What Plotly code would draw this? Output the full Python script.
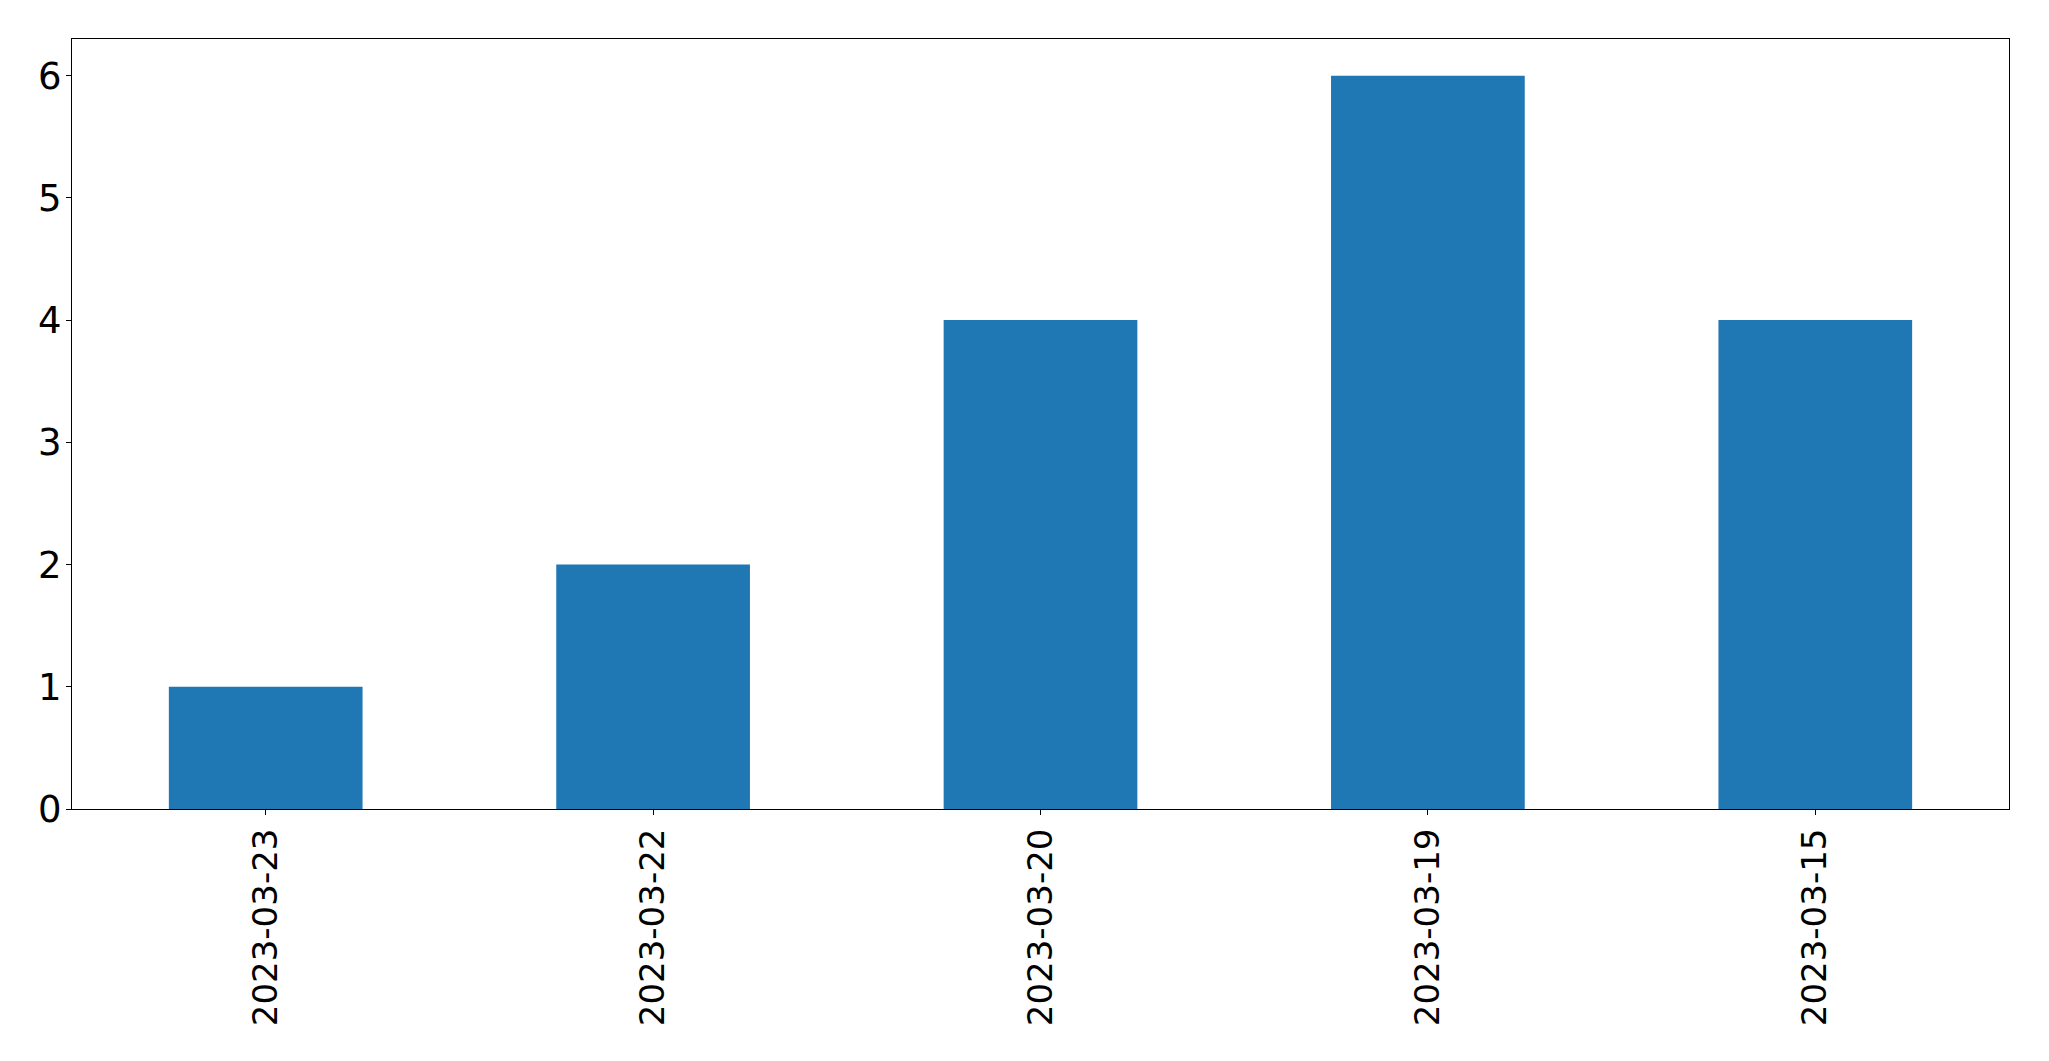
import plotly.graph_objects as go

categories = ["2023-03-23", "2023-03-22", "2023-03-20", "2023-03-19", "2023-03-15"]
values = [1, 2, 4, 6, 4]
y_ticks = [0, 1, 2, 3, 4, 5, 6]

fig = go.Figure(
    go.Bar(x=categories, y=values, width=0.5, marker=dict(color="#1f77b4", line=dict(width=0)))
)

axis_common = dict(
    showline=True, linecolor="black", linewidth=1, mirror=True,
    ticks="outside", ticklen=5, tickwidth=1, tickcolor="black",
    showgrid=False, zeroline=False, automargin=False,
)

fig.update_layout(
    width=2049, height=1061,
    margin=dict(l=72, r=40, t=39, b=252),
    plot_bgcolor="white", paper_bgcolor="white",
    showlegend=False,
    xaxis=dict(type="category", range=[-0.5, 4.5], tickangle=-90,
               tickfont=dict(family="DejaVu Sans", size=34, color="black"),
               ticklabelstandoff=0, **axis_common),
    yaxis=dict(range=[0, 6.3], tickvals=y_ticks, ticktext=[str(v) for v in y_ticks],
               tickfont=dict(family="DejaVu Sans", size=37, color="black"),
               ticklabelstandoff=-3, **axis_common),
)

fig.write_html(
    "out.html",
    config={"displayModeBar": False},
    post_script="document.body.style.margin='0';document.body.style.padding='0';document.body.style.overflow='hidden';",
)
